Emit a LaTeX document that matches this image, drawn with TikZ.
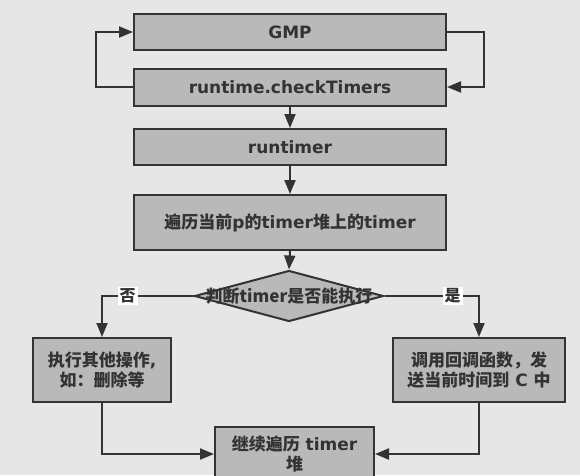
\documentclass[tikz,border=0pt]{standalone}
\usepackage{fontspec}
\setmainfont{DejaVu Sans}
\newfontfamily\zhfont{Noto Sans CJK SC}
\newcommand{\zh}[1]{{\zhfont #1}}
\usetikzlibrary{shapes.geometric, arrows.meta}

\definecolor{bgGray}{HTML}{E6E6E6}
\definecolor{boxGray}{HTML}{B9B9B9}
\definecolor{lineGray}{HTML}{333333}

\begin{document}
\begin{tikzpicture}[x=1pt,y=1pt,yscale=-1,xscale=1,
  box/.style={draw=lineGray, line width=2pt, fill=boxGray, text=lineGray, inner sep=0pt, align=center, font=\fontsize{17}{20}\selectfont\bfseries},
  flow/.style={draw=lineGray, line width=2pt, -{Triangle[length=14pt,width=11pt]}},
  tag/.style={fill=white, text=lineGray, inner sep=2pt, font=\fontsize{16}{18}\selectfont\zhfont\bfseries}
]
\useasboundingbox (0,0) rectangle (580,475);
\clip (0,0) rectangle (580,475);
\fill[bgGray] (0,0) rectangle (580,475);

%Shape: Rectangle
\node[box, minimum width=312pt, minimum height=36pt] (gmp) at (290,32) {GMP};
\node[box, minimum width=312pt, minimum height=37pt] (check) at (290,87) {runtime.checkTimers};
\node[box, minimum width=312pt, minimum height=36pt] (runt) at (290,147) {runtimer};
\node[box, minimum width=312pt, minimum height=55pt] (walk) at (290,222.5) {\zh{遍历当前}p\zh{的}timer\zh{堆上的}timer};
%Shape: Diamond
\node[box, diamond, minimum width=189pt, minimum height=51pt] (judge) at (289,296) {};
% Text Node
\node[text=lineGray, font=\fontsize{17}{20}\selectfont\zhfont\bfseries] (judgeText) at (judge) {判断timer是否能执行};
\node[box, minimum width=138pt, minimum height=64pt] (other) at (102,370) {\zh{执行其他操作},\\\zh{如：删除等}};
\node[box, minimum width=172pt, minimum height=64pt] (call) at (479,370) {\zh{调用回调函数，发}\\\zh{送当前时间到} C \zh{中}};
\node[box, minimum width=159pt, minimum height=54pt] (next) at (294.5,454) {\zh{继续遍历} timer\\\zh{堆}};

%Straight Lines
\draw[flow] (check.west) -- ++(-37,0) |- (gmp.west);
\draw[flow] (gmp.east) -- ++(37,0) |- (check.east);
\draw[flow] (check.south) -- (runt.north);
\draw[flow] (runt.south) -- (walk.north);
\draw[flow] (walk.south) -- (judge.north);
\draw[flow] (judge.west) -| node[tag, pos=0.36] {否} (other.north);
\draw[flow] (judge.east) -| node[tag, pos=0.36] {是} (call.north);
\draw[flow] (other.south) |- (next.west);
\draw[flow] (call.south) |- (next.east);

\end{tikzpicture}
\end{document}
